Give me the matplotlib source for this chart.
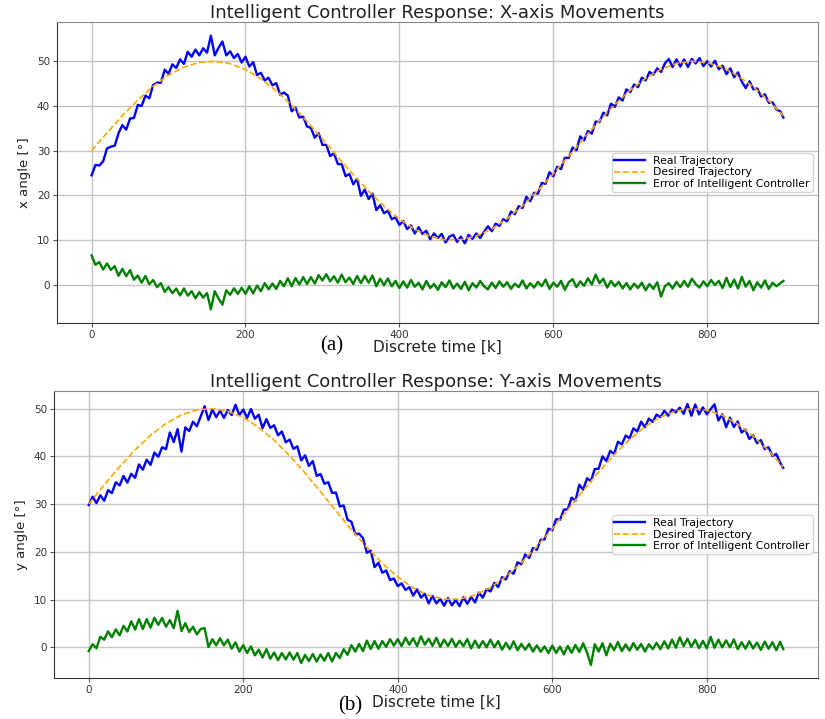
import numpy as np
import matplotlib
matplotlib.use("Agg")
import matplotlib.pyplot as plt
from matplotlib import font_manager

# ---------------- data ----------------
k_desired = list(range(0, 900, 20)) + [899]
k_noisy = list(range(0, 900, 5)) + [899]

desired_x = [30.0, 33.99, 37.82, 41.33, 44.39, 46.87, 48.67, 49.73, 49.99, 49.44,
             48.13, 46.06, 43.38, 40.15, 36.53, 32.60, 28.60, 24.66, 20.96, 17.61,
             14.72, 12.42, 10.85, 10.08, 10.11, 10.94, 12.52, 14.81, 17.70, 21.07,
             24.85, 28.80, 32.80, 36.69, 40.32, 43.53, 46.19, 48.21, 49.49, 49.99,
             49.69, 48.60, 46.75, 44.24, 41.17, 37.8]

real_x = [24.5, 26.8, 26.7, 27.6, 30.5, 30.9, 31.1, 33.9, 35.7, 34.7, 37.2, 37.3, 40.2, 40.0, 42.3, 41.7, 44.7, 45.2, 45.2, 48.1,
          47.2, 49.3, 48.5, 50.4, 49.4, 52.1, 51.0, 52.6, 51.3, 52.9, 51.9, 55.7, 51.3, 53.0, 54.4, 51.3, 52.2, 50.7, 51.6, 49.7,
          51.0, 48.8, 49.8, 46.9, 47.4, 45.7, 46.3, 44.6, 45.1, 42.5, 43.0, 42.3, 38.8, 39.6, 37.4, 37.6, 35.4, 35.1, 32.9, 33.9,
          31.3, 31.3, 28.8, 29.4, 27.0, 27.0, 24.3, 24.8, 22.5, 23.7, 19.9, 21.3, 19.2, 20.4, 16.7, 17.8, 16.0, 16.6, 14.7, 15.1,
          13.4, 14.3, 12.5, 13.3, 11.5, 12.9, 11.4, 12.1, 10.2, 11.5, 10.5, 11.4, 9.5, 10.8, 11.2, 9.6, 10.8, 9.3, 11.2, 10.3,
          11.5, 10.5, 11.9, 13.1, 12.0, 13.7, 13.2, 14.7, 14.2, 16.4, 15.8, 17.6, 17.2, 19.7, 18.7, 20.6, 20.4, 22.8, 22.6, 25.2,
          24.3, 26.4, 25.9, 28.4, 28.4, 30.7, 30.1, 33.2, 32.3, 34.4, 33.8, 36.5, 36.4, 38.5, 37.9, 40.5, 39.8, 41.9, 41.2, 43.7,
          43.1, 44.8, 44.2, 46.3, 45.7, 47.6, 47.0, 48.4, 47.6, 49.5, 50.5, 48.7, 50.4, 48.8, 50.4, 48.7, 50.5, 49.5, 50.7, 48.9,
          50.0, 48.8, 50.1, 48.2, 49.0, 47.1, 48.4, 46.4, 47.5, 45.4, 44.0, 45.5, 43.7, 43.9, 42.1, 42.6, 40.7, 40.8, 39.2, 38.8,
          37.4]

error_x = [6.6, 4.5, 5.1, 3.45, 4.8, 3.35, 4.2, 2.05, 3.6, 1.95, 3.3, 1.15, 2.1, 0.5, 2.0, 0.15, 1.1, -0.5, 0.4, -1.55,
           -0.5, -1.85, -0.8, -2.35, -0.8, -2.4, -1.4, -3.0, -1.6, -2.85, -1.8, -5.45, -1.4, -3.05, -4.4, -1.2, -2.2, -0.75, -2.0, -0.65,
           -2.0, -0.3, -1.9, -0.15, -1.4, 0.4, -1.0, 0.3, -0.9, 0.9, -0.3, 1.5, -0.3, 1.55, 0.1, 1.75, 0.2, 1.75, 0.3, 2.2,
           1.0, 2.4, 0.8, 1.95, 0.5, 2.3, 0.6, 1.65, 0.2, 2.0, 0.4, 2.0, 0.5, 2.1, -0.3, 1.4, -0.1, 1.45, -0.3, 0.9,
           -0.7, 0.8, -0.6, 1.1, -0.4, 0.5, -1.0, 0.9, -0.7, 0.2, -1.1, 0.6, -0.5, 1.0, -0.8, 0.3, -0.9, 0.7, -1.2, 0.4,
           -0.6, 0.9, -0.3, -1.0, 0.5, -0.7, 0.8, -0.4, 0.6, -0.9, 0.3, -0.5, 1.0, -0.8, 0.4, -0.6, 0.7, -0.3, 1.2, -0.9,
           0.5, -0.4, 0.9, -1.1, 0.6, 1.3, -0.5, 0.8, -0.2, 1.5, 0.1, 2.3, 0.4, 1.4, -0.6, 0.9, -0.3, 0.7, -0.8, 0.4,
           -1.0, 0.3, -0.7, 0.5, -1.2, 0.2, -0.9, 0.6, -2.6, -0.3, 0.4, -0.8, 0.7, -0.5, 0.9, -0.4, 1.4, 0.2, -0.6, 0.8,
           -0.3, 1.1, 0.0, 0.9, -0.7, 1.6, -0.5, 1.2, -0.8, 1.8, -0.4, 0.9, -1.2, 0.6, -0.6, 1.0, -0.9, 0.5, -0.3, 0.4,
           0.9]

desired_y = [30.0, 33.99, 37.82, 41.33, 44.39, 46.87, 48.67, 49.73, 49.99, 49.44,
             48.13, 46.06, 43.38, 40.15, 36.53, 32.60, 28.60, 24.66, 20.96, 17.61,
             14.72, 12.42, 10.85, 10.08, 10.11, 10.94, 12.52, 14.81, 17.70, 21.07,
             24.85, 28.80, 32.80, 36.69, 40.32, 43.53, 46.19, 48.21, 49.49, 49.99,
             49.69, 48.60, 46.75, 44.24, 41.17, 37.8]

real_y = [29.8, 31.55, 30.2, 31.85, 30.7, 32.9, 32.3, 34.55, 33.9, 35.9, 34.5, 36.35, 35.5, 38.3, 37.2, 39.3, 38.2, 40.8, 39.9, 41.9,
          41.5, 45.0, 43.0, 45.7, 41.0, 46.05, 45.3, 47.25, 46.3, 48.4, 50.5, 47.6, 49.8, 48.2, 49.6, 48.05, 49.7, 48.65, 50.8, 48.65,
          49.8, 48.05, 49.9, 47.9, 48.7, 45.9, 47.8, 45.95, 46.5, 44.4, 45.2, 42.95, 43.5, 41.55, 42.1, 39.15, 40.2, 38.0, 39.0, 35.9,
          36.3, 34.25, 34.6, 32.35, 32.4, 29.5, 29.7, 26.7, 26.3, 23.7, 23.8, 22.85, 19.8, 20.25, 16.8, 17.7, 15.6, 16.1, 14.1, 14.4,
          12.8, 13.4, 12.0, 12.6, 10.8, 12.15, 10.4, 11.2, 9.2, 10.75, 9.2, 10.15, 8.7, 10.3, 8.8, 9.9, 8.6, 10.5, 9.1, 10.55,
          9.4, 11.45, 10.4, 12.15, 11.7, 13.5, 12.6, 14.7, 14.2, 15.95, 15.4, 17.8, 17.4, 19.45, 18.7, 20.8, 20.4, 22.5, 22.6, 24.85,
          24.5, 26.85, 26.7, 28.85, 28.9, 31.35, 30.7, 34.05, 33.0, 35.4, 34.8, 37.35, 37.4, 40.0, 39.0, 41.15, 40.5, 43.05, 42.5, 44.35,
          43.8, 45.85, 45.2, 47.25, 46.1, 47.9, 47.2, 48.75, 48.2, 49.55, 48.5, 49.8, 49.2, 50.2, 48.9, 50.95, 48.5, 50.85, 48.8, 50.25,
          48.8, 49.9, 50.9, 47.5, 48.8, 46.1, 48.1, 46.15, 47.3, 45.0, 45.6, 43.65, 44.4, 42.75, 43.4, 41.5, 41.9, 40.05, 40.5, 38.65,
          37.6]

error_y = [-0.8, 0.65, -0.2, 2.2, 1.6, 3.35, 2.1, 3.75, 2.5, 4.5, 3.3, 5.45, 3.7, 5.9, 3.8, 5.9, 4.1, 6.2, 4.7, 6.15,
           4.3, 5.7, 4.0, 7.65, 3.4, 5.05, 3.2, 4.3, 2.7, 3.85, 4.0, 0.05, 1.7, 0.4, 1.9, 0.4, 1.6, -0.3, 1.05, -0.9,
           0.45, -1.2, 0.2, -1.7, -0.5, -2.15, -0.4, -2.4, -1.1, -2.7, -1.2, -2.55, -1.1, -2.6, -1.2, -3.3, -1.6, -2.9, -1.4, -3.0,
           -1.5, -2.8, -1.2, -2.95, -1.2, -2.25, -0.4, -1.6, 0.45, -0.9, 0.7, -0.8, 1.4, -0.35, 1.3, -0.3, 1.3, 0.1, 1.7, 0.35,
           1.7, 0.25, 2.0, 0.55, 1.9, 0.25, 2.3, 0.55, 1.8, 0.3, 2.0, 0.1, 1.6, 0.25, 1.8, 0.1, 1.4, 0.25, 1.7, -0.25,
           1.4, -0.1, 1.3, 0.0, 1.6, 0.0, 1.3, -0.5, 0.95, -0.4, 1.25, -0.6, 0.7, -0.5, 0.7, -0.9, 0.4, -0.95, 0.2, -1.2,
           0.35, -1.2, 0.15, -1.5, 0.3, -1.15, 0.5, -1.0, 0.85, -1.1, -3.7, 0.65, -0.9, 0.85, -1.7, 0.75, -0.6, 1.1, -0.8, 0.6,
           -0.7, 0.9, -0.5, 0.7, -0.9, 0.65, -0.4, 0.95, -0.4, 1.25, -0.25, 1.6, -0.1, 2.1, 0.25, 1.8, 0.1, 1.55, -0.2, 1.35,
           -0.2, 2.2, -0.1, 1.6, 0.0, 1.45, 0.0, 1.65, -0.4, 1.05, -0.3, 1.25, -0.25, 1.0, -0.55, 1.2, -0.3, 1.05, -0.6, 1.15,
           -0.4]

titles = ["Intelligent Controller Response: X-axis Movements",
          "Intelligent Controller Response: Y-axis Movements"]
ylabels = ["x angle [°]", "y angle [°]"]
panel_tags = ["(a)", "(b)"]
legend_labels = ["Real Trajectory", "Desired Trajectory", "Error of Intelligent Controller"]
xticks = [0, 200, 400, 600, 800]
yticks = [0, 10, 20, 30, 40, 50]

# narrow font for the y label if available
installed = {f.name for f in font_manager.fontManager.ttflist}
narrow = [f for f in ["DejaVu Sans Condensed", "Liberation Sans Narrow"] if f in installed]
ylabel_family = narrow + ["DejaVu Sans"]

# ---------------- figure ----------------
fig = plt.figure(figsize=(8.25, 7.19), dpi=100)
fig.patch.set_facecolor("white")

rects = [[57/825, 1-323/719, (818-57)/825, (323-22)/719],
         [54/825, 1-678/719, (818-54)/825, (678-391)/719]]
tag_pos = [(332/825, 1-346/719), (350/825, 1-706/719)]

series = [(real_x, desired_x, error_x), (real_y, desired_y, error_y)]

for i in range(2):
    ax = fig.add_axes(rects[i])
    real, des, err = series[i]
    ax.plot(k_noisy, real, color="#0000ff", lw=1.7, label=legend_labels[0], zorder=3)
    ax.plot(k_desired, des, color="orange", lw=1.2, ls="--", label=legend_labels[1], zorder=4)
    ax.plot(k_noisy, err, color="green", lw=1.7, label=legend_labels[2], zorder=3)
    ax.set_xticks(xticks)
    ax.set_yticks(yticks)
    ax.grid(True, color="#c4c4c4", lw=1.0)
    ax.set_axisbelow(True)
    ax.tick_params(labelsize=7.5, length=3, color="#555555", labelcolor="#333333", pad=2)
    for s in ["left", "bottom"]:
        ax.spines[s].set_color("#333333")
    for s in ["top", "right"]:
        ax.spines[s].set_color("#888888")
    ax.set_title(titles[i], fontsize=13, color="#222222", pad=2)
    ax.set_xlabel("Discrete time [k]", fontsize=11, color="#222222", labelpad=0)
    ax.set_ylabel(ylabels[i], fontsize=9.5, color="#222222", labelpad=4,
                  family=ylabel_family)
    leg = ax.legend(loc="center right", fontsize=7.8, handlelength=2.8,
                    framealpha=0.8, edgecolor="#cccccc", fancybox=True,
                    borderpad=0.25, labelspacing=0.12)
    fig.text(tag_pos[i][0], tag_pos[i][1], panel_tags[i], fontsize=15,
             family=["Liberation Serif", "DejaVu Serif"], ha="center", va="center")

fig.savefig("out.png", dpi=100, facecolor="white")
